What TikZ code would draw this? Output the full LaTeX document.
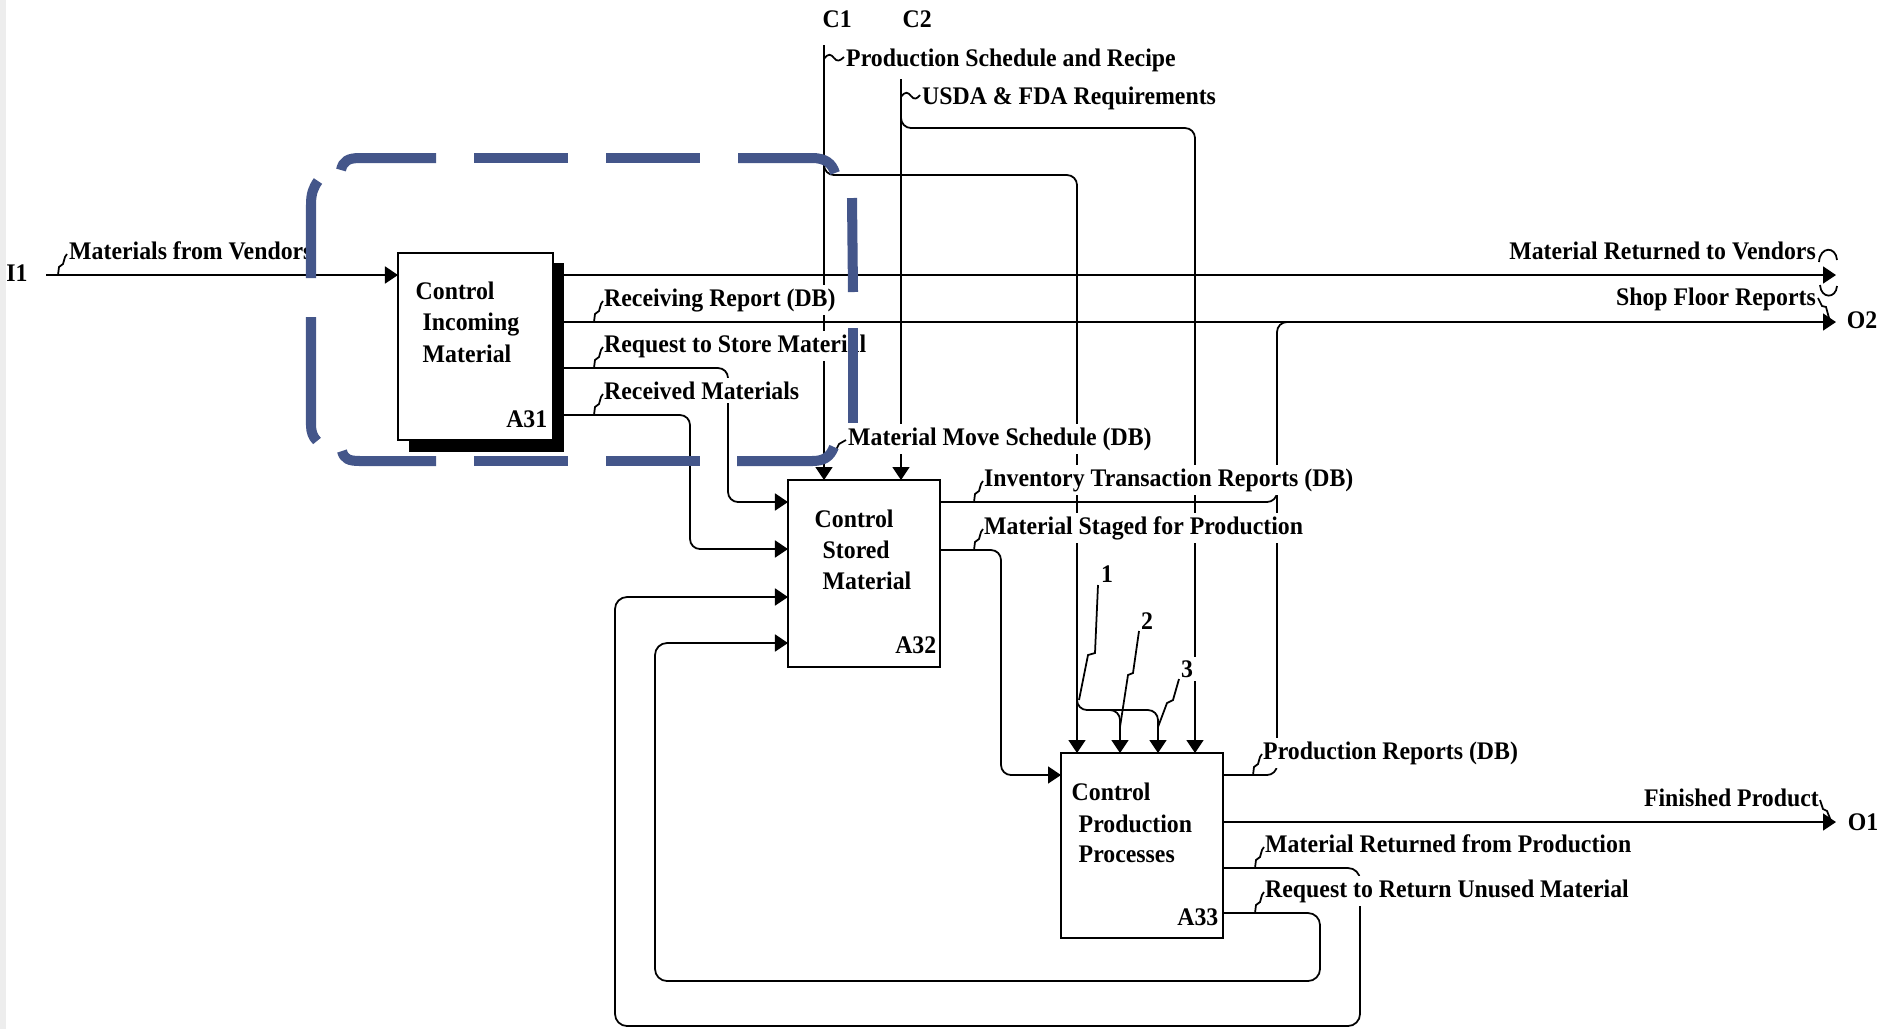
\documentclass[tikz,border=0pt]{standalone}
\usepackage{fontspec}
\newfontfamily\lblfont{Liberation Serif Bold}[FakeStretch=0.94]
\usetikzlibrary{arrows.meta}
\definecolor{dashblue}{RGB}{68,86,138}
\tikzset{
  line/.style={line width=0.5pt},
  arr/.style={line, -{Triangle[length=1.3mm,width=1.7mm]}},
  box/.style={draw, line width=0.7pt, fill=white, inner sep=0pt, outer sep=0pt, anchor=north west},
  txt/.style={font=\lblfont\fontsize{7.2}{8.6}\selectfont, inner sep=0pt, anchor=base west},
  lbl/.style={font=\lblfont\fontsize{7.2}{8.6}\selectfont, inner sep=1pt, fill=white, anchor=base west},
  lblr/.style={lbl, anchor=base east},
}
\newcommand\sqg[1]{\draw[line] (#1) -- ++(1,-8) -- ++(4,-3) -- ++(2,-7) -- ++(2,-3);}
\begin{document}
\begin{tikzpicture}[x=0.01cm,y=-0.01cm]
\useasboundingbox (0,0) rectangle (1881,1029);
\fill[black!7] (0,0) rectangle (6,1029);

% boxes
\fill (409,263) rectangle (564,452);
\node[box, minimum width=1.55cm, minimum height=1.87cm] (a31) at (398,253) {};
\node[box, minimum width=1.52cm, minimum height=1.87cm] (a32) at (788,480) {};
\node[box, minimum width=1.62cm, minimum height=1.85cm] (a33) at (1061,753) {};

\node[txt] (a31l1) at (415,299) {Control};
\node[txt] (a31l2) at (422,330) {Incoming};
\node[txt] (a31l3) at (422,362) {Material};
\node[txt, anchor=base east] (a31n) at (548,427) {A31};
\node[txt] (a32l1) at (814,527) {Control};
\node[txt] (a32l2) at (822,558) {Stored};
\node[txt] (a32l3) at (822,589) {Material};
\node[txt, anchor=base east] (a32n) at (937,653) {A32};
\node[txt] (a33l1) at (1071,800) {Control};
\node[txt] (a33l2) at (1078,832) {Production};
\node[txt] (a33l3) at (1078,862) {Processes};
\node[txt, anchor=base east] (a33n) at (1219,925) {A33};

% boundary labels
\node[txt, anchor=center] (i1) at (17,273) {I1};
\node[txt, anchor=center] (o2) at (1862,320) {O2};
\node[txt, anchor=center] (o1) at (1863,822) {O1};
\node[txt] (c1) at (822,27) {C1};
\node[txt] (c2) at (902,27) {C2};
\coordinate (i1e) at (46,275);
\coordinate (o2a) at (1836,275);
\coordinate (o2b) at (1836,322);
\coordinate (o1a) at (1836,822);
\coordinate (c1s) at (824,45);
\coordinate (c2s) at (901,79);

% connectors
\draw[arr] (i1e) -- (a31.west |- 0,275);
\draw[arr] (a31.east |- 0,275) -- (o2a);
\draw[arr] (a31.east |- 0,322) -- (o2b);
\draw[arr, rounded corners=1mm] (a31.east |- 0,368) -- (728,368) -- (728,502) -- (a32.west |- 0,502);
\draw[arr, rounded corners=1mm] (a31.east |- 0,415) -- (690,415) -- (690,549) -- (a32.west |- 0,549);
\draw[arr] (c1s) -- (c1s |- a32.north);
\draw[arr] (c2s) -- (c2s |- a32.north);
\draw[arr, rounded corners=1mm] (824,158) -- (824,175) -- (1077,175) -- (a33.north -| 1077,0);
\draw[arr, rounded corners=1mm] (901,110) -- (901,128) -- (1195,128) -- (a33.north -| 1195,0);
\draw[arr, rounded corners=1mm] (1077,690) -- (1077,710) -- (1158,710) -- (a33.north -| 1158,0);
\draw[arr, rounded corners=1mm] (1100,710) -- (1120,710) -- (a33.north -| 1120,0);
\draw[arr, rounded corners=1mm] (a32.east |- 0,550) -- (1001,550) -- (1001,775) -- (a33.west |- 0,775);
\draw[line, rounded corners=1mm] (a32.east |- 0,502) -- (1277,502) -- (1277,480);
\draw[line, rounded corners=1mm] (a33.east |- 0,775) -- (1277,775) -- (1277,322) -- (1300,322);
\draw[arr] (a33.east |- 0,822) -- (o1a);
\draw[arr, rounded corners=1.2mm] (a33.east |- 0,868) -- (1360,868) -- (1360,1026) -- (615,1026) -- (615,597) -- (a32.west |- 0,597);
\draw[arr, rounded corners=1.2mm] (a33.east |- 0,913) -- (1320,913) -- (1320,981) -- (655,981) -- (655,643) -- (a32.west |- 0,643);

% labels
\node[lbl] (lmv) at (65,259) {Materials from Vendors};
\node[lbl] (lrr) at (600,306) {Receiving Report (DB)};
\node[lbl] (lrs) at (600,352) {Request to Store Material};
\node[lbl] (lrm) at (600,399) {Received Materials};
\node[lbl] (lmm) at (844,445) {Material Move Schedule (DB)};
\node[lbl] (lit) at (980,486) {Inventory Transaction Reports (DB)};
\node[lbl] (lms) at (980,534) {Material Staged for Production};
\node[lbl] (lps) at (842,66) {Production Schedule and Recipe};
\node[lbl] (lus) at (918,104) {USDA \& FDA Requirements};
\node[lblr] (lrv) at (1820,259) {Material Returned to Vendors};
\node[lblr] (lsf) at (1820,305) {Shop Floor Reports};
\node[lbl] (lpr) at (1259,759) {Production Reports (DB)};
\node[lblr] (lfp) at (1823,806) {Finished Product};
\node[lbl] (lrp) at (1261,852) {Material Returned from Production};
\node[lbl] (lru) at (1261,897) {Request to Return Unused Material};
\node[lbl] (n1) at (1097,582) {1};
\node[lbl] (n2) at (1137,629) {2};
\node[lbl] (n3) at (1177,677) {3};

% squiggles
\sqg{58,275}
\sqg{594,322}
\sqg{594,368}
\sqg{594,415}
\sqg{974,502}
\sqg{974,550}
\sqg{1253,775}
\sqg{1255,868}
\sqg{1255,913}
\draw[line] (825,460) -- (830,452) -- (835,452) -- (839,444) -- (846,440);
\draw[line] (1819,262) .. controls (1820,246) and (1836,246) .. (1837,260);
\draw[line] (1820,285) .. controls (1821,299) and (1836,299) .. (1837,286);
\draw[line] (1818,298) -- (1822,306) -- (1826,307) -- (1829,318);
\draw[line] (1820,800) -- (1823,809) -- (1827,811) -- (1831,821);
\draw[line] (824,59) .. controls (828,53) and (831,54) .. (834,58) .. controls (837,62) and (840,61) .. (844,57);
\draw[line] (901,97) .. controls (905,91) and (908,92) .. (911,96) .. controls (914,100) and (917,99) .. (920,95);
\draw[line] (1098,585) -- (1095,653) -- (1088,655) -- (1079,700);
\draw[line] (1139,631) -- (1133,673) -- (1128,675) -- (1120,727);
\draw[line] (1179,679) -- (1173,700) -- (1167,703) -- (1158,727);

% dashed highlight
\begin{scope}[color=dashblue, line width=2.85pt]
\draw (341,170) .. controls (343,161) and (348,158) .. (360,158) -- (436,158);
\draw (474,158) -- (568,158);
\draw (606,158) -- (700,158);
\draw (738,158) -- (812,158) .. controls (825,158) and (832,163) .. (835,173);
\draw (852,198) -- (853,292);
\draw (853,328) -- (853,423);
\draw (342,451) .. controls (344,459) and (349,461) .. (360,461) -- (436,461);
\draw (474,461) -- (568,461);
\draw (606,461) -- (700,461);
\draw (737,461) -- (812,461) .. controls (824,461) and (830,457) .. (834,447);
\draw (318,181) .. controls (313,188) and (311,194) .. (311,205) -- (311,278);
\draw (311,317) -- (311,425) .. controls (311,432) and (313,437) .. (317,441);
\end{scope}
\end{tikzpicture}
\end{document}
